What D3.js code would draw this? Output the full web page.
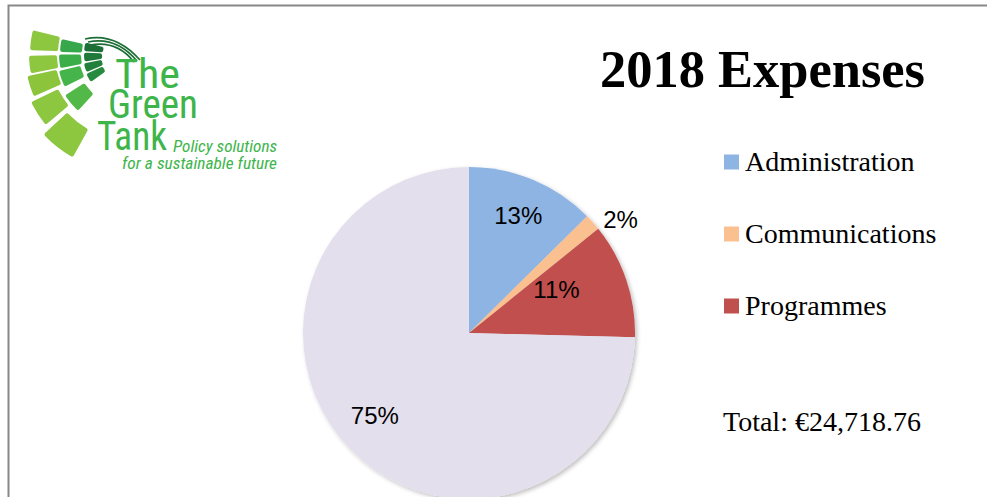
<!DOCTYPE html>
<html>
<head>
<meta charset="utf-8">
<script src="https://cdn.jsdelivr.net/npm/d3@7"></script>
<style>
  body{margin:0;background:#fff;}
  svg{display:block;}
</style>
</head>
<body>
<div id="container"></div>
<script>
// chart data
const categories=['Administration','Communications','Programmes','Other'];
const shares=[12.6,1.6,11.2,74.6];
const pctLabels=['13%','2%','11%','75%'];
const legendItems=['Administration','Communications','Programmes'];
const chartTitle='2018 Expenses';
const totalText='Total: €24,718.76';

const width=987, height=497;
const colors=['#8eb4e3','#fac090','#c0504d','#e4dfec'];

const svg=d3.select('#container')
    .append('svg')
    .attr('width',width)
    .attr('height',height);

const defs=svg.append('defs');
const shadow=defs.append('filter').attr('id','shadow')
    .attr('x','-10%').attr('y','-10%').attr('width','120%').attr('height','120%');
shadow.append('feDropShadow')
    .attr('dx',2).attr('dy',2).attr('stdDeviation',2)
    .attr('flood-color','#000').attr('flood-opacity',0.25);

// frame
svg.append('rect')
   .attr('x',8.5).attr('y',5.5)
   .attr('width',width+20).attr('height',height+20)
   .attr('fill','none').attr('stroke','#888').attr('stroke-width',2);

// ---- logo ----
const logo=svg.append('g').attr('transform','translate(130,54)');
const deg=Math.PI/180;
// [centre angle (screen deg), angular width, inner r, outer r]
const rings=[
  {fill:['#8dc63f','#8dc63f','#8cc43c','#8dc63f','#8dc63f'],
   tiles:[[188,11.5,72,100],[174,10,73,101],[162,11.5,75,105],[147,14,80,110],[128,18,86,118]]},
  {fill:['#36a74a','#3bae4a','#44b44b','#52b848'],
   tiles:[[187,10.5,48,70],[174,11,49,71],[160,13,51,73],[140,15,54,77]]},
  {fill:['#1c6f36','#1f7a3a','#22803c','#268a3f'],
   tiles:[[189,11,27,46],[176,11,28,46],[163,11,29,47],[150,11,30,48]]}
];
const tileArc=d3.arc().cornerRadius(2);
rings.forEach(ring=>{
  ring.tiles.forEach((t,i)=>{
    const a=(t[0]+90)*deg, w=t[1]*deg/2;
    logo.append('path')
        .attr('d',tileArc({innerRadius:t[2],outerRadius:t[3],startAngle:a-w,endAngle:a+w}))
        .attr('fill',ring.fill[i]);
  });
});
// swoosh lines
[[-45,-15,-15,-22,10,6],[-42,-12,-14,-18,7,7],[-40,-9,-13,-14,4,8]].forEach(s=>{
  logo.append('path')
      .attr('d',`M${s[0]},${s[1]} Q${s[2]},${s[3]} ${s[4]},${s[5]}`)
      .attr('fill','none').attr('stroke','#1d6e36').attr('stroke-width',1.6);
});

const logoFont='"Liberation Sans Narrow","Roboto Condensed",Roboto,sans-serif';
const logoTxt=svg.append('g').attr('fill','#3db54a').attr('font-family',logoFont);
[['The',115,88,65],['Green',108,118,90],['Tank',97,150,70]].forEach(w=>{
  logoTxt.append('text').attr('x',w[1]).attr('y',w[2]).attr('font-size',40)
     .attr('textLength',w[3]).attr('lengthAdjust','spacingAndGlyphs').text(w[0]);
});
logoTxt.append('text').attr('x',173).attr('y',152).attr('font-size',16)
   .attr('font-style','italic').attr('textLength',104).attr('lengthAdjust','spacingAndGlyphs')
   .text('Policy solutions');
logoTxt.append('text').attr('x',122).attr('y',169).attr('font-size',16)
   .attr('font-style','italic').attr('textLength',155).attr('lengthAdjust','spacingAndGlyphs')
   .text('for a sustainable future');

// ---- title ----
svg.append('text')
   .attr('x',600).attr('y',87)
   .attr('font-family','"Liberation Serif","DejaVu Serif",serif')
   .attr('font-weight','bold').attr('font-size',53)
   .attr('textLength',325).attr('lengthAdjust','spacingAndGlyphs')
   .text(chartTitle);

// ---- pie ----
const cx=469, cy=333, radius=166;
const pie=d3.pie().sort(null).value(d=>d);
const arcs=pie(shares);
const arc=d3.arc().innerRadius(0).outerRadius(radius);

const pg=svg.append('g').attr('transform',`translate(${cx},${cy})`);
pg.append('g').attr('filter','url(#shadow)')
  .selectAll('path')
  .data(arcs)
  .enter()
  .append('path')
  .attr('d',arc)
  .attr('fill',(d,i)=>colors[i]);

// label placement (radius factor, angle nudge in degrees)
const labelPos=[[0.77,0],[1.14,5],[0.59,-8],[0.755,3]];
pg.selectAll('text.pct')
  .data(arcs)
  .enter()
  .append('text')
  .attr('class','pct')
  .attr('transform',(d,i)=>{
     const a=(d.startAngle+d.endAngle)/2+labelPos[i][1]*deg;
     const r=radius*labelPos[i][0];
     return `translate(${r*Math.sin(a)},${-r*Math.cos(a)})`;
  })
  .attr('text-anchor','middle')
  .attr('dy','0.36em')
  .attr('font-family','"Liberation Sans",Arial,sans-serif')
  .attr('font-size',24)
  .attr('fill','#000')
  .text((d,i)=>pctLabels[i]);

// ---- legend ----
const legendY=d3.scalePoint().domain(legendItems).range([162,306]);
const lg=svg.append('g').selectAll('g')
   .data(legendItems)
   .enter()
   .append('g')
   .attr('transform',d=>`translate(724,${legendY(d)})`);
lg.append('rect')
  .attr('x',0).attr('y',-7.5).attr('width',15).attr('height',15)
  .attr('fill',d=>colors[categories.indexOf(d)]);
lg.append('text')
  .attr('x',21).attr('y',9)
  .attr('font-family','"Liberation Serif","DejaVu Serif",serif')
  .attr('font-size',28)
  .text(d=>d);

svg.append('text')
   .attr('x',723).attr('y',431)
   .attr('font-family','"Liberation Serif","DejaVu Serif",serif')
   .attr('font-size',28)
   .text(totalText);
</script>
</body>
</html>
